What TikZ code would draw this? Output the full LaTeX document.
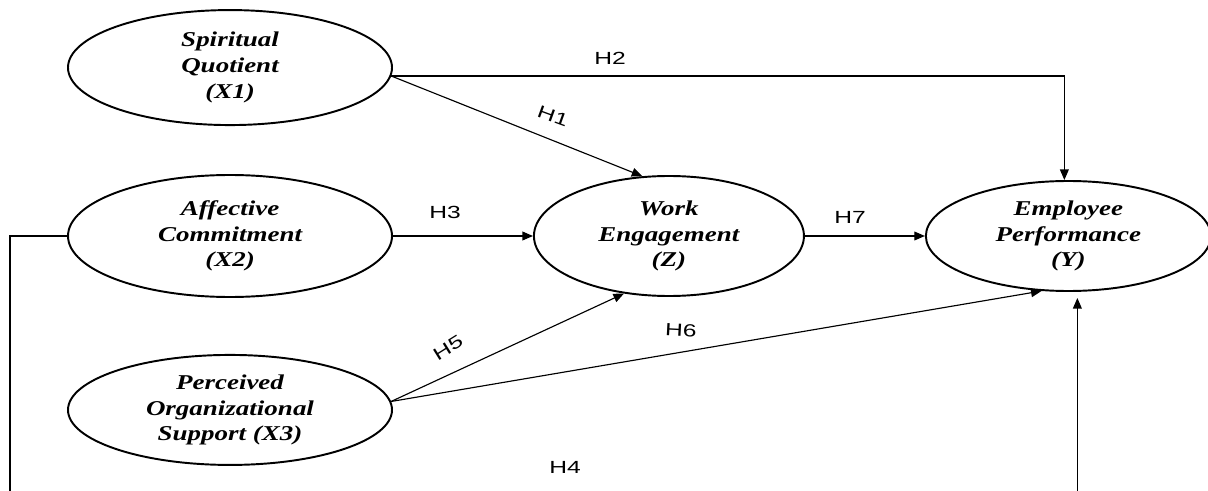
\documentclass[tikz,border=0pt]{standalone}
\usepackage{fontspec}
\setmainfont{Liberation Serif}
\newfontfamily\hfont[FakeStretch=1.4]{Liberation Sans}
\newfontfamily\latentfont[FakeStretch=1.28]{Liberation Serif}
\usetikzlibrary{shapes.geometric,arrows.meta}
\usetikzlibrary{positioning}
\tikzset{
    every node/.style={font=\hfont\fontsize{10}{12}\selectfont},
    latent/.style={ellipse,draw,line width=1.1pt,align=center,inner sep=0pt,
        minimum width=6.48cm,minimum height=2.3cm,
        font=\latentfont\bfseries\itshape\fontsize{12}{14.6}\selectfont}
}

\begin{document}
\begin{tikzpicture}[
            > = {Triangle[length=6pt,width=5pt]}, % arrow head style
            line width = 0.65pt % line style
        ]

        \useasboundingbox (0,0) rectangle (24.16,-9.82);
        \clip (0,0) rectangle (24.16,-9.82);

        \node[latent, minimum height=2.44cm] (x2) at (4.6,-4.72) {Affective\\Commitment\\(X2)};
        \node[latent] [above=0.96cm of x2] (x1) {Spiritual\\Quotient\\(X1)};
        \node[latent, minimum height=2.2cm] [below=1.12cm of x2] (x3) {Perceived\\Organizational\\Support (X3)};
        \node[latent, minimum width=5.4cm, minimum height=2.4cm] [right=2.8cm of x2] (z) {Work\\Engagement\\(Z)};
        \node[latent, minimum width=5.7cm, minimum height=2.2cm] [right=2.4cm of z] (y) {Employee\\Performance\\(Y)};
        \coordinate (h4) at (0.2,-10.6);

        \path[->] (x1.-3) edge (z.114);
        \draw[->] (x1.-3) -| ([xshift=-0.08cm]y.north);
        \path[->] (x2) edge (z);
        \path[->] (z) edge (y);
        \path[->] (x3.3) edge (z.232);
        \path[->] (x3.3) edge (y.244);
        \draw[->, shorten >=0.12cm] (x2.west) -| (h4) -| ([xshift=0.18cm]y.south);

        \node at (12.2,-1.16) {H2};
        \node[rotate=-20] at (11.06,-2.32) {H1};
        \node at (8.9,-4.24) {H3};
        \node at (17.0,-4.34) {H7};
        \node[rotate=32] at (8.96,-6.96) {H5};
        \node[rotate=-3] at (13.62,-6.6) {H6};
        \node at (11.3,-9.34) {H4};

  \end{tikzpicture}
\end{document}
